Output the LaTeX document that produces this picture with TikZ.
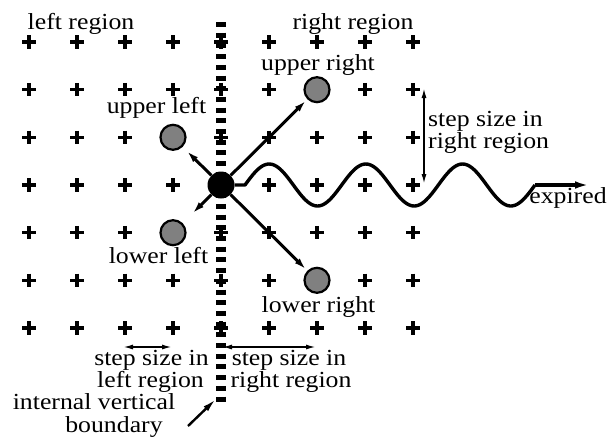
\documentclass[tikz,border=0pt]{standalone}
\usepackage{fontspec}
\setmainfont[FakeStretch=1.12]{Liberation Serif}
\usetikzlibrary{arrows.meta}
\definecolor{midgray}{RGB}{128,128,128}
\begin{document}
\begin{tikzpicture}[x=1pt,y=-1pt,
  lbl/.style={font=\fontsize{23}{20}\selectfont, inner sep=0pt, anchor=base},
  lblw/.style={lbl, anchor=base west},
  plusmark/.style={line width=3.2pt},
  arr/.style={line width=3pt, -{Latex[length=14pt,width=6.5pt]}},
  bigarr/.style={line width=3.4pt, -{Latex[length=15pt,width=7.5pt]}},
  thinarr/.style={line width=1.6pt, {Latex[length=10pt,width=5pt]}-{Latex[length=10pt,width=5pt]}},
  gcirc/.style={circle, draw=black, line width=2.2pt, fill=midgray, minimum size=25pt, inner sep=0pt},
  dotnode/.style={circle, fill=black, minimum size=27pt, inner sep=0pt},
  boundary/.style={line width=10pt, dash pattern=on 5pt off 5.7pt},
  wave/.style={line width=3.4pt, line join=round}
]
\useasboundingbox (0,0) rectangle (607,437);

% boundary
\coordinate (bt) at (221,22);
\coordinate (bb) at (221,407);
\draw[boundary] (bt) -- (bb);

% grid of plus marks
\foreach \i in {0,...,6}{
  \foreach \j in {0,...,8}{
    \draw[plusmark] ({29+48*\j-6.8},{42+47.67*\i}) -- ++(13.6,0)
                    ({29+48*\j},{42+47.67*\i-6.8}) -- ++(0,13.6);
  }
}

% particles
\node[dotnode] (dot) at (221,185) {};
\node[gcirc] (ul) at (173,137.3) {};
\node[gcirc] (ll) at (173,232.7) {};
\node[gcirc] (ur) at (317,89.7) {};
\node[gcirc] (lr) at (317,280.3) {};

\draw[arr] (dot) -- (ur);
\draw[arr] (dot) -- (lr);
\draw[arr, shorten >=4pt] (dot) -- (ul);
\draw[arr, shorten >=12pt] (dot) -- (ll);

% wave
\coordinate (w0) at (245,185);
\coordinate (w1) at (535,185);
\coordinate (wend) at (590,185);
\draw[wave] (dot.east) -- (w0) -- plot[domain=245:535, samples=150] (\x,{185-21*sin((\x-245)/96.667*360)});
\draw[bigarr] (w1) -- (wend);

% step size arrows
\coordinate (s1) at (424,88);
\coordinate (s2) at (424,184);
\draw[thinarr] (s1) -- (s2);
\coordinate (l1) at (123,347);
\coordinate (l2) at (172,347);
\draw[thinarr] (l1) -- (l2);
\coordinate (r1) at (222,347);
\coordinate (r2) at (316,347);
\draw[thinarr] (r1) -- (r2);

% boundary pointer
\coordinate (bnd) at (188,426);
\coordinate (btip) at (216,399);
\draw[arr, line width=2.4pt] (bnd) -- (btip);

% labels
\node[lbl] (tl) at (81,29) {left region};
\node[lbl] (tr) at (353,29) {right region};
\node[lbl] (tur) at (318,70) {upper right};
\node[lbl] (tul) at (156.5,113) {upper left};
\node[lbl] (tll) at (158.5,263) {lower left};
\node[lbl] (tlr) at (318.5,312.5) {lower right};
\node[lblw] (trs1) at (428,126) {step size in};
\node[lblw] (trs2) at (428,148) {right region};
\node[lbl] (tls1) at (151.5,365) {step size in};
\node[lbl] (tls2) at (150.5,387) {left region};
\node[lbl] (tbs1) at (289,365) {step size in};
\node[lbl] (tbs2) at (291,387) {right region};
\node[lbl] (tiv1) at (94,409.5) {internal vertical};
\node[lbl] (tiv2) at (114,432) {boundary};
\node[lbl] (texp) at (568,203) {expired};
\end{tikzpicture}
\end{document}
